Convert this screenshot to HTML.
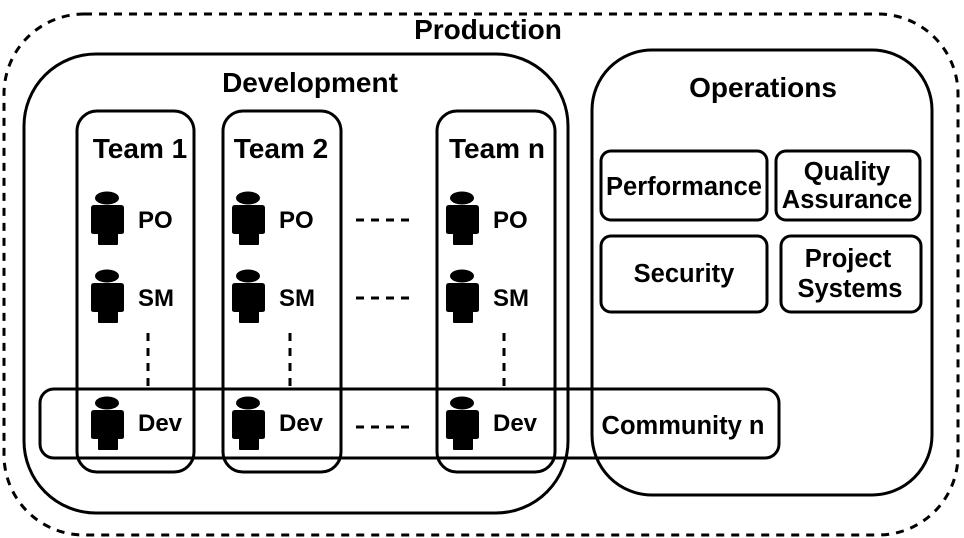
<!DOCTYPE html>
<html><head><style>html,body{margin:0;padding:0;background:#fff}svg{display:block}
text{font-family:"Liberation Sans",sans-serif;font-weight:bold;fill:#000}</style></head>
<body>
<svg width="964" height="538" viewBox="0 0 964 538" xmlns="http://www.w3.org/2000/svg">
<defs>
<g id="p">
<ellipse cx="16" cy="-22" rx="12" ry="6.5"/>
<path d="M3,-15 H30 Q33,-15 33,-12 V12 Q33,14 30,14 H27 V24 Q27,25 26,25 H8 Q7,25 7,24 V14 H3 Q0,14 0,12 V-12 Q0,-15 3,-15 Z" />
</g>
</defs>
<g fill="none" stroke="#000" stroke-width="3">
<rect x="4" y="14" width="954" height="521" rx="80" stroke-dasharray="8,7"/>
<rect x="24" y="54" width="544" height="459" rx="72"/>
<rect x="592" y="50" width="340" height="445" rx="60"/>
<rect x="77" y="111" width="117" height="361" rx="20"/>
<rect x="223" y="111" width="118" height="361" rx="20"/>
<rect x="437" y="111" width="118" height="361" rx="20"/>
<rect x="40" y="389" width="739" height="69" rx="14"/>
<rect x="601" y="151" width="166" height="69" rx="10"/>
<rect x="776" y="151" width="144" height="69" rx="10"/>
<rect x="601" y="236" width="166" height="76" rx="10"/>
<rect x="781" y="236" width="140" height="76" rx="10"/>
<g stroke-dasharray="8,7">
<line x1="148" y1="333" x2="148" y2="389"/>
<line x1="290" y1="333" x2="290" y2="389"/>
<line x1="504" y1="333" x2="504" y2="389"/>
<line x1="356" y1="220" x2="414" y2="220"/>
<line x1="356" y1="298" x2="414" y2="298"/>
<line x1="356" y1="427" x2="414" y2="427"/>
</g>
</g>
<g fill="#000">
<use href="#p" x="91" y="220"/><use href="#p" x="91" y="298"/><use href="#p" x="91" y="425"/>
<use href="#p" x="232" y="220"/><use href="#p" x="232" y="298"/><use href="#p" x="232" y="425"/>
<use href="#p" x="446" y="220"/><use href="#p" x="446" y="298"/><use href="#p" x="446" y="425"/>
</g>
<g font-size="28" text-anchor="middle">
<text x="488" y="39">Production</text>
<text x="310" y="92">Development</text>
<text x="763" y="97">Operations</text>
<text x="140" y="158">Team 1</text>
<text x="281" y="158">Team 2</text>
<text x="497" y="158">Team n</text>
</g>
<g font-size="24">
<text x="138" y="228">PO</text><text x="138" y="306">SM</text><text x="138" y="431">Dev</text>
<text x="279" y="228">PO</text><text x="279" y="306">SM</text><text x="279" y="431">Dev</text>
<text x="493" y="228">PO</text><text x="493" y="306">SM</text><text x="493" y="431">Dev</text>
</g>
<g font-size="25.5" text-anchor="middle">
<text x="683" y="434">Community n</text>
<text x="684" y="195">Performance</text>
<text x="847" y="180">Quality</text>
<text x="847" y="208">Assurance</text>
<text x="684" y="282">Security</text>
<text x="848" y="267">Project</text>
<text x="850" y="297">Systems</text>
</g>
</svg>
</body></html>
